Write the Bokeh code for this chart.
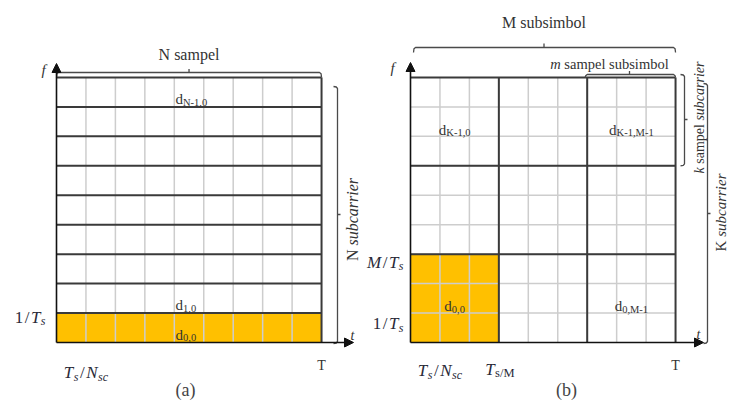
import math
from bokeh.plotting import figure
from bokeh.models import Range1d, ColumnDataSource, Arrow, NormalHead
from bokeh.core.properties import value, field
from bokeh.embed import file_html
from bokeh.resources import INLINE

# ---------------- data ----------------
# panel (a): OFDM grid
a_subcarriers = 9            # N subcarrier rows
a_samples = 9                # N sampel columns
a_highlight_rows = [0]
a_cell_labels = ["N-1,0", "1,0", "0,0"]
a_cell_rows = [8, 1, 0]

# panel (b): GFDM grid
b_subcarriers = 9            # K subcarrier rows
b_samples = 9                # columns
b_block = 3                  # m sampel subsimbol / k sampel subcarrier
b_highlight_blocks = [(0, 0)]
b_cell_labels = ["K-1,0", "K-1,M-1", "0,0", "0,M-1"]
b_cell_block_rows = [2, 2, 0, 0]
b_cell_block_cols = [0, 2, 0, 2]

# ---------------- layout ----------------
CELL = 29.45
A_LEFT = 56.0
B_LEFT = 410.0
BOTTOM = 342.0
FONT = "Liberation Serif"
ORANGE = "#FFC000"
LIGHT = "#cdcdcd"
DARK = "#3a3a3a"
BRACE = "#4a4a4a"
TXT = "#333333"
MATH = "#2a2a38"
W, HGT = 729, 402


def Y(py):
    return HGT - py


p = figure(width=W, height=HGT, x_range=Range1d(0, W), y_range=Range1d(0, HGT),
           x_axis_type=None, y_axis_type=None, toolbar_location=None,
           output_backend="svg", min_border=0)
p.outline_line_color = None
p.grid.visible = False
p.background_fill_color = "white"

# ---------- panel (a) ----------
a_right = A_LEFT + a_samples * CELL
a_top = BOTTOM - a_subcarriers * CELL
for r in a_highlight_rows:
    p.quad(left=A_LEFT, right=a_right, bottom=Y(BOTTOM - r * CELL), top=Y(BOTTOM - (r + 1) * CELL),
           fill_color=ORANGE, line_color=None)
vx = [A_LEFT + j * CELL for j in range(1, a_samples)]
p.segment(x0=vx, y0=[Y(BOTTOM)] * len(vx), x1=vx, y1=[Y(a_top)] * len(vx),
          line_color=LIGHT, line_width=1.5)
hy = [Y(BOTTOM - i * CELL) for i in range(1, a_subcarriers + 1)]
p.segment(x0=[A_LEFT] * len(hy), y0=hy, x1=[a_right] * len(hy), y1=hy,
          line_color=DARK, line_width=2)
p.segment(x0=[a_right], y0=[Y(BOTTOM)], x1=[a_right], y1=[Y(a_top)], line_color=DARK, line_width=2)

# ---------- panel (b) ----------
b_right = B_LEFT + b_samples * CELL
b_top = BOTTOM - b_subcarriers * CELL
for (br, bc) in b_highlight_blocks:
    p.quad(left=B_LEFT + bc * b_block * CELL, right=B_LEFT + (bc + 1) * b_block * CELL,
           bottom=Y(BOTTOM - br * b_block * CELL), top=Y(BOTTOM - (br + 1) * b_block * CELL),
           fill_color=ORANGE, line_color=None)
vx = [B_LEFT + j * CELL for j in range(1, b_samples)]
p.segment(x0=vx, y0=[Y(BOTTOM)] * len(vx), x1=vx, y1=[Y(b_top)] * len(vx),
          line_color=LIGHT, line_width=1.5)
hy = [Y(BOTTOM - i * CELL) for i in range(1, b_subcarriers)]
p.segment(x0=[B_LEFT] * len(hy), y0=hy, x1=[b_right] * len(hy), y1=hy,
          line_color=LIGHT, line_width=1.5)
vx = [B_LEFT + j * CELL for j in range(b_block, b_samples + 1, b_block)]
p.segment(x0=vx, y0=[Y(BOTTOM)] * len(vx), x1=vx, y1=[Y(b_top)] * len(vx),
          line_color=DARK, line_width=2)
hy = [Y(BOTTOM - i * CELL) for i in range(b_block, b_subcarriers + 1, b_block)]
p.segment(x0=[B_LEFT] * len(hy), y0=hy, x1=[b_right] * len(hy), y1=hy,
          line_color=DARK, line_width=2)

# ---------- axes arrows ----------
for (x0, y0, x1, y1) in [(A_LEFT, BOTTOM, A_LEFT, 63), (A_LEFT, BOTTOM, 353, BOTTOM),
                         (B_LEFT, BOTTOM, B_LEFT, 62), (B_LEFT, BOTTOM, 703, BOTTOM)]:
    p.add_layout(Arrow(end=NormalHead(size=9, fill_color="#111111", line_color="#111111"),
                       x_start=x0, y_start=Y(y0), x_end=x1, y_end=Y(y1),
                       line_color="#111111", line_width=1.6))

# ---------- braces ----------
bx, by = [], []


def hbrace(x0, x1, y, xm, hook, tick):
    bx.append([x0, x0 + 0.5, x0 + 2, x1 - 2, x1 - 0.5, x1])
    by.append([Y(y + hook), Y(y + 1.2), Y(y), Y(y), Y(y + 1.2), Y(y + hook)])
    bx.append([xm, xm]); by.append([Y(y), Y(y - tick)])


def vbrace(x, y0, y1, ym, hook, tick):
    bx.append([x - hook, x - 1.2, x, x, x - 1.2, x - hook])
    by.append([Y(y0), Y(y0 + 0.5), Y(y0 + 2), Y(y1 - 2), Y(y1 - 0.5), Y(y1)])
    bx.append([x, x + tick]); by.append([Y(ym), Y(ym)])


hbrace(A_LEFT, a_right, 72, (A_LEFT + a_right) / 2, 5, 3.5)
vbrace(337, 86, 343, 214, 4, 3)
hbrace(413, b_right, 47, 543.5, 5, 4)
hbrace(B_LEFT + 2 * b_block * CELL - 2, b_right, 74, 629, 3, 3.5)
vbrace(684, 74, BOTTOM - 2 * b_block * CELL, 119, 4, 3)
vbrace(707, 83, 343, 213, 4, 3)
p.multi_line(xs=bx, ys=by, line_color=BRACE, line_width=1.3)

# ---------- text ----------
REG = {' ': .25, '(': .333, ')': .333, ',': .25, '-': .333, '/': .278, 'K': .722, 'M': .889,
       'N': .722, 'T': .611, 'a': .444, 'b': .5, 'c': .444, 'd': .5, 'e': .444, 'i': .278,
       'l': .278, 'm': .778, 'o': .5, 'p': .5, 'r': .333, 's': .389, 'u': .5, 'k': .5}
ITA = {' ': .25, 'K': .667, 'M': .833, 'N': .667, 'T': .556, 'a': .5, 'b': .5, 'c': .444,
       'e': .444, 'i': .278, 'k': .444, 'm': .722, 'r': .389, 's': .389, 'u': .5, 'f': .278,
       't': .278, '/': .278}


def tw(s, size, italic):
    t = ITA if italic else REG
    return sum(t.get(c, .5) for c in s) * size


H = dict(x=[], y=[], text=[], size=[], style=[], color=[])
V = dict(x=[], y=[], text=[], size=[], style=[], color=[])


def place(segs, x, y, anchor="left", color=TXT):
    # segs: (text, size, italic, dy, gap)
    total = sum(tw(s[0], s[1], s[2]) + s[4] for s in segs)
    cur = x if anchor == "left" else (x - total if anchor == "right" else x - total / 2)
    for (s, size, it, dy, gap) in segs:
        cur += gap
        H["x"].append(cur); H["y"].append(Y(y + dy)); H["text"].append(s)
        H["size"].append(f"{size}px"); H["style"].append("italic" if it else "normal")
        H["color"].append(color)
        cur += tw(s, size, it)


def place_v(segs, x, yc, color=TXT):
    total = sum(tw(s[0], s[1], s[2]) + s[4] for s in segs)
    cur = yc + total / 2
    for (s, size, it, dy, gap) in segs:
        cur -= gap
        V["x"].append(x); V["y"].append(Y(cur)); V["text"].append(s)
        V["size"].append(f"{size}px"); V["style"].append("italic" if it else "normal")
        V["color"].append(color)
        cur -= tw(s, size, it)


def dlabel(sub):
    return [("d", 15, False, 0, 0), (sub, 10.5, False, 3, 0)]


# cell labels (a)
for lab, r in zip(a_cell_labels, a_cell_rows):
    yc = BOTTOM - (r + 0.5) * CELL
    place(dlabel(lab), (A_LEFT + a_right) / 2 - 13.5, yc + 7)
# cell labels (b)
for lab, br, bc in zip(b_cell_labels, b_cell_block_rows, b_cell_block_cols):
    yc = BOTTOM - (br + 0.5) * b_block * CELL
    xc = B_LEFT + (bc + 0.5) * b_block * CELL
    place(dlabel(lab), xc, yc + 8, "center")

# titles (spaces expressed as gaps, since SVG collapses edge whitespace)
place([("N sampel", 16, False, 0, 0)], (A_LEFT + a_right) / 2, 54, "center")
place([("M subsimbol", 16, False, 0, 0)], 543.5, 22, "center")
place([("m", 14.5, True, 0, 0), ("sampel subsimbol", 14.5, False, 0, 3.6)], 609, 63, "center")
place([("f", 15, True, 0, 0)], 43, 69, "center")
place([("f", 15, True, 0, 0)], 392, 67, "center")
place([("t", 14, True, 0, 0)], 352, 335, "center")
place([("t", 14, True, 0, 0)], 698, 334, "center")

# math tick labels
one_Ts = [("1", 17, False, 0, 0), ("/", 17, False, 0, 1.5), ("T", 17, True, 0, 1.5), ("s", 12, True, 4, 0.5)]
M_Ts = [("M", 17, True, 0, 0), ("/", 17, False, 0, 1.5), ("T", 17, True, 0, 1.5), ("s", 12, True, 4, 0.5)]
Ts_Nsc = [("T", 17, True, 0, 0), ("s", 12, True, 4, 0.5), ("/", 17, False, 0, 1.5),
          ("N", 17, True, 0, 1.5), ("sc", 12, True, 4, 0.5)]
Ts_M = [("T", 17, True, 0, 0), ("s/M", 12.5, False, 3, 0.5)]
place(one_Ts, A_LEFT - 11, BOTTOM - CELL + 4, "right", MATH)
place(Ts_Nsc, A_LEFT + CELL, 372, "center", MATH)
place([("T", 14, False, 0, 0)], a_right, 365, "center")
place([("(a)", 18, False, 0, 0)], 185, 389, "center", "#444444")

place(one_Ts, B_LEFT - 7, 323, "right", MATH)
place(M_Ts, B_LEFT - 7, BOTTOM - b_block * CELL + 8, "right", MATH)
place(Ts_Nsc, B_LEFT + CELL, 370, "center", MATH)
place(Ts_M, B_LEFT + b_block * CELL + 1, 369, "center", MATH)
place([("T", 14, False, 0, 0)], b_right, 365, "center")
place([("(b)", 18, False, 0, 0)], 566, 389, "center", "#444444")

# rotated labels
place_v([("N", 16, False, 0, 0), ("subcarrier", 16, True, 0, 4)], 352, 219)
place_v([("k", 14, True, 0, 0), ("sampel", 14, False, 0, 3.5), ("subcarrier", 14, True, 0, 3.5)], 699, 117)
place_v([("K", 15, False, 0, 0), ("subcarrier", 15, True, 0, 3.8)], 720, 212)

p.text(x="x", y="y", text="text", source=ColumnDataSource(H), text_font=value(FONT),
       text_font_size=field("size"), text_font_style=field("style"), text_color=field("color"),
       text_align="left", text_baseline="alphabetic")
p.text(x="x", y="y", text="text", source=ColumnDataSource(V), text_font=value(FONT),
       text_font_size=field("size"), text_font_style=field("style"), text_color=field("color"),
       text_align="left", text_baseline="middle", angle=math.pi / 2)

open("out.html", "w").write(file_html(p, INLINE))
